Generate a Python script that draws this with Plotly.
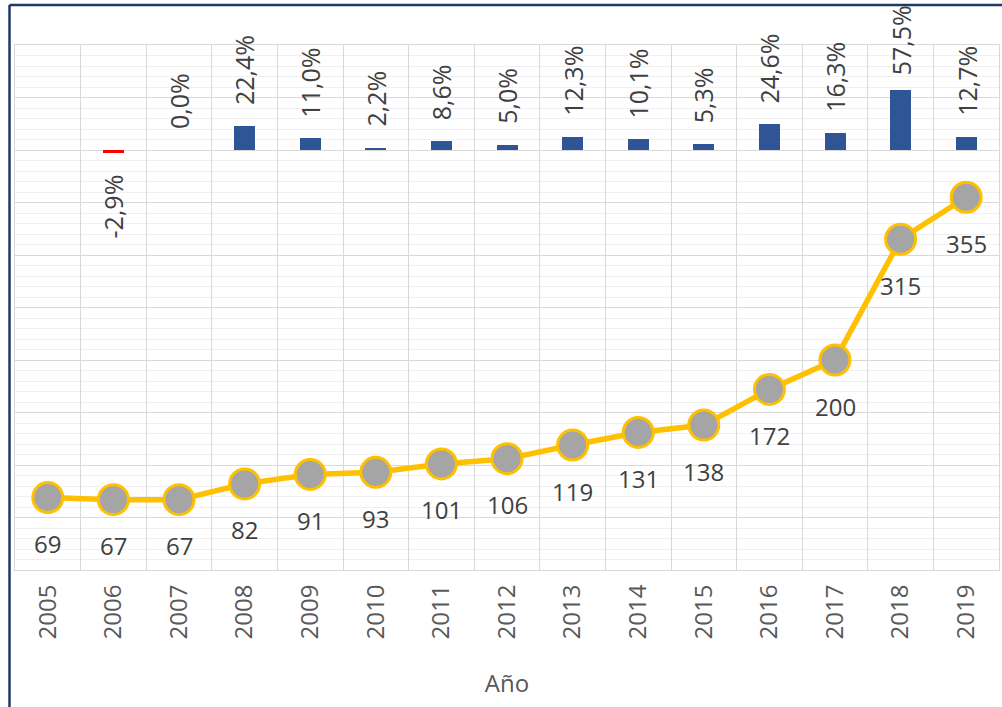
import plotly.graph_objects as go

years = [str(y) for y in range(2005, 2020)]
values = [69, 67, 67, 82, 91, 93, 101, 106, 119, 131, 138, 172, 200, 315, 355]
growth = [None, -2.9, 0.0, 22.4, 11.0, 2.2, 8.6, 5.0, 12.3, 10.1, 5.3, 24.6, 16.3, 57.5, 12.7]

FONT = "Open Sans"
LABEL = "#404040"
AXIS = "#595959"

fig = go.Figure()

bar_colors = ["#ff0000" if (g is not None and g < 0) else "#2f5597" for g in growth]
fig.add_trace(go.Bar(
    x=years, y=growth, yaxis="y2", width=0.32,
    marker=dict(color=bar_colors, line=dict(width=0)),
    hoverinfo="skip", showlegend=False,
))

fig.add_trace(go.Scatter(
    x=years, y=values, mode="lines+markers",
    line=dict(color="#ffc000", width=5.5),
    marker=dict(size=30, color="#a5a5a5", line=dict(color="#ffc000", width=3)),
    showlegend=False, hoverinfo="skip",
))

annotations = []
for i, v in enumerate(values):
    annotations.append(dict(
        x=i, y=v, xref="x", yref="y", text=str(v), showarrow=False,
        yanchor="middle", xanchor="center", yshift=-46,
        font=dict(family=FONT, size=24, color=LABEL),
    ))
for i, g in enumerate(growth):
    if g is None:
        continue
    txt = f"{g:.1f}".replace(".", ",") + "%"
    if g >= 0:
        shift = 12 if g > 50 else 19
        annotations.append(dict(
            x=i, y=g, xref="x", yref="y2", text=txt, showarrow=False,
            textangle=-90, yanchor="bottom", xanchor="center", yshift=shift,
            font=dict(family=FONT, size=25, color=LABEL),
        ))
    else:
        annotations.append(dict(
            x=i, y=g, xref="x", yref="y2", text=txt, showarrow=False,
            textangle=-90, yanchor="top", xanchor="center", yshift=-19,
            font=dict(family=FONT, size=25, color=LABEL),
        ))

W, H = 1002, 707
L, R, T, B = 15, 3, 45, 137
pw, ph = W - L - R, H - T - B
def px(xp):
    return (xp - L) / pw
def py(yp):
    return (H - B - yp) / ph

shapes = [
    dict(type="line", xref="paper", yref="paper", x0=px(9.5), x1=px(9.5), y0=py(720), y1=py(5),
         line=dict(color="#1f3864", width=2.5)),
    dict(type="line", xref="paper", yref="paper", x0=px(9.5), x1=px(1010), y0=py(5), y1=py(5),
         line=dict(color="#1f3864", width=2.5)),
]

fig.update_layout(
    width=W, height=H,
    margin=dict(l=L, r=R, t=T, b=B),
    paper_bgcolor="white", plot_bgcolor="white",
    font=dict(family=FONT, color=AXIS),
    bargap=0,
    annotations=annotations,
    shapes=shapes,
    xaxis=dict(
        type="category", range=[-0.5, 14.5], tickson="boundaries",
        showgrid=True, gridcolor="#d9d9d9", gridwidth=1,
        showline=True, linecolor="#d9d9d9", mirror=True,
        ticks="", tickangle=-90, tickfont=dict(family=FONT, size=24, color=AXIS),
        ticklabelstandoff=4,
        title=dict(text="Año", font=dict(family=FONT, size=24, color=AXIS), standoff=36),
        automargin=False, fixedrange=True,
    ),
    yaxis=dict(
        range=[0, 500], dtick=50, showgrid=True, gridcolor="#d9d9d9", gridwidth=1,
        minor=dict(dtick=10, showgrid=True, gridcolor="#f0f0f0", gridwidth=1),
        showticklabels=False, ticks="", zeroline=True, zerolinecolor="#d9d9d9",
        showline=True, linecolor="#d9d9d9", mirror=True, automargin=False, fixedrange=True,
    ),
    yaxis2=dict(
        range=[-400, 100], overlaying="y", side="right", showgrid=False,
        showticklabels=False, ticks="", zeroline=False, showline=False, automargin=False,
        fixedrange=True,
    ),
)

fig.write_html("out.html", config={"displayModeBar": False},
               post_script="document.body.style.margin='0';")
